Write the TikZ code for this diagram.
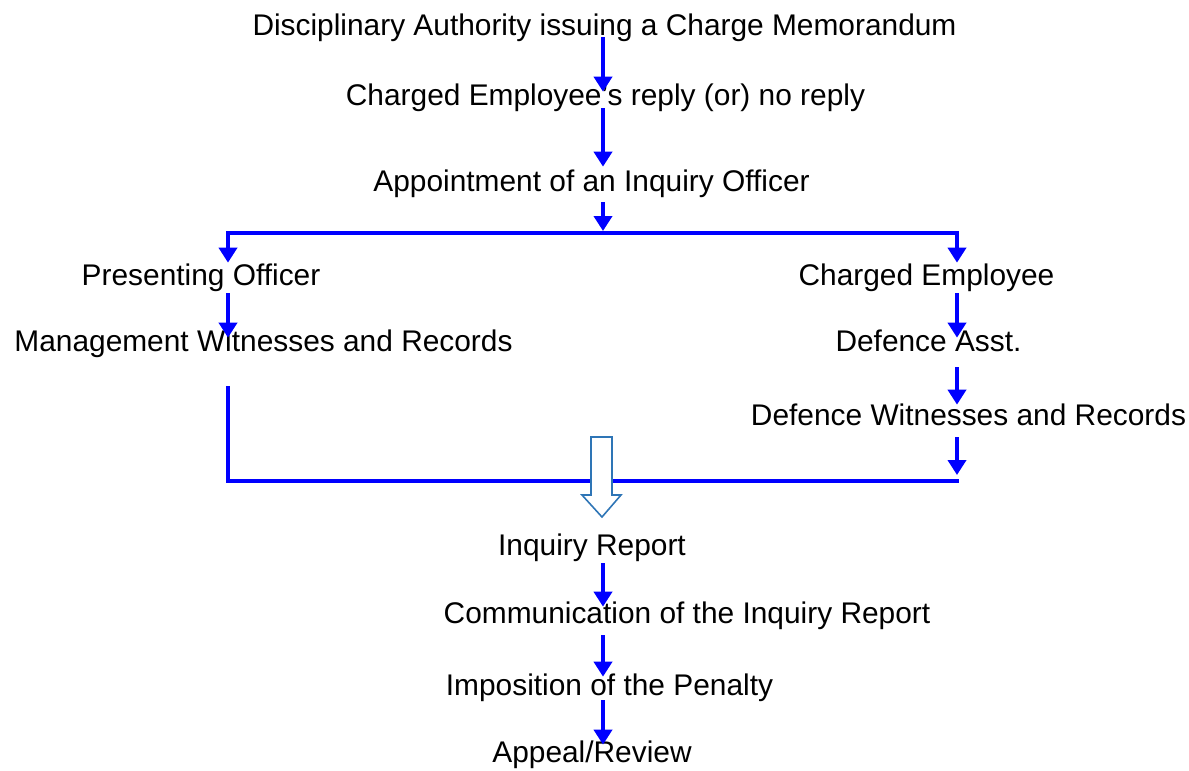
\documentclass[tikz,border=0pt]{standalone}
\usepackage{fontspec}
\setmainfont{Liberation Sans}
\usetikzlibrary{arrows.meta,calc}
\definecolor{blu}{RGB}{0,0,255}
\definecolor{azzurro}{RGB}{46,117,182}
\tikzset{
>={Triangle[width=0.36cm,length=0.3cm]},
testo/.style={anchor=base,inner sep=0pt,text height=0.42cm,text depth=0.12cm,
  font=\fontsize{17pt}{20pt}\selectfont},
linea/.style={draw=blu,line width=2.4pt},
freccia/.style={->,linea,shorten <=0.04cm,shorten >=-0.08cm},
blocco/.style={draw=azzurro,fill=white,line width=0.9pt,line join=miter}}
\begin{document}
\begin{tikzpicture}
\useasboundingbox (0,0) rectangle (23.78,-15.4);

\coordinate (ax) at (12.06,0);
\coordinate (lsplit) at (4.56,-4.66);
\coordinate (msplit) at (12.06,-4.66);
\coordinate (rsplit) at (19.14,-4.66);
\coordinate (ltop) at (4.56,-7.76);
\coordinate (lbot) at (4.56,-9.62);
\coordinate (rbot) at (19.14,-9.62);

\node[testo] (dam) at (12.09,-0.70) {Disciplinary Authority issuing a Charge Memorandum};
\node[testo] (rep) at (12.11,-2.10) {Charged Employee's reply (or) no reply};
\node[testo] (inq) at (11.83,-3.82) {Appointment of an Inquiry Officer};
\node[testo] (po)  at (4.02,-5.70)  {Presenting Officer};
\node[testo] (mwr) at (5.27,-7.02)  {Management Witnesses and Records};
\node[testo] (ce)  at (18.53,-5.70) {Charged Employee};
\node[testo] (da)  at (18.57,-7.02) {Defence Asst.};
\node[testo] (dwr) at (19.37,-8.50) {Defence Witnesses and Records};
\node[testo] (ir)  at (11.84,-11.10) {Inquiry Report};
\node[testo] (cir) at (13.74,-12.46) {Communication of the Inquiry Report};
\node[testo] (pen) at (12.19,-13.90) {Imposition of the Penalty};
\node[testo] (app) at (11.84,-15.24) {Appeal/Review};

\draw[freccia,shorten <=-0.08cm,shorten >=-0.16cm] (dam.south -| ax) -- (rep.north -| ax);
\draw[freccia,shorten <=-0.06cm,shorten >=0.06cm] (rep.south -| ax) -- (inq.north -| ax);
\draw[freccia,shorten <=0.1cm,shorten >=0.04cm] (inq.south -| ax) -- (msplit);
\draw[linea,line cap=rect] (lsplit) -- (rsplit);
\draw[freccia,shorten <=0pt,shorten >=0.02cm] (lsplit) -- (po.north -| lsplit);
\draw[freccia,shorten <=0pt,shorten >=0.02cm] (rsplit) -- (ce.north -| rsplit);

\draw[freccia,shorten >=-0.16cm] (po.south -| lsplit) -- (mwr.north -| lsplit);
\draw[freccia,shorten >=-0.16cm] (ce.south -| rsplit) -- (da.north -| rsplit);
\draw[freccia,shorten <=0.2cm,shorten >=-0.02cm] (da.south -| rsplit) -- (dwr.north -| rsplit);
\draw[freccia,shorten <=0.12cm,shorten >=0.12cm] (dwr.south -| rsplit) -- (rbot);
\draw[linea,line cap=rect] (ltop) -- (lbot) -- (rbot);

% freccia vuota verso il rapporto
\draw[blocco] (11.82,-8.74) -- (12.24,-8.74) -- (12.24,-9.90) -- (12.42,-9.90)
  -- (12.04,-10.34) -- (11.64,-9.90) -- (11.82,-9.90) -- cycle;

\draw[freccia,shorten >=-0.1cm] (ir.south -| ax) -- (cir.north -| ax);
\draw[freccia,shorten <=0.12cm,shorten >=-0.06cm] (cir.south -| ax) -- (pen.north -| ax);
\draw[freccia,shorten <=-0.02cm] (pen.south -| ax) -- (app.north -| ax);

\end{tikzpicture}
\end{document}
